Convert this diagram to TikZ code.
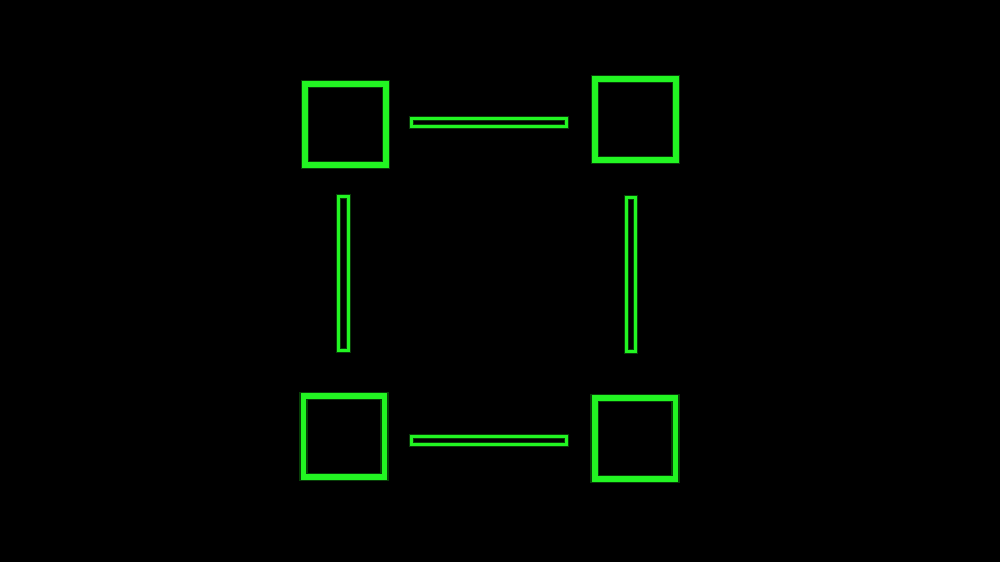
\documentclass[tikz,border=0pt]{standalone}
\usepackage{tikz}
\usetikzlibrary{shapes}
\definecolor{neon}{RGB}{34,245,34}
\tikzstyle{corner} = [rectangle, draw=neon, line width=3.4pt, minimum width=1.62cm,
    minimum height=1.62cm, inner sep=0pt, outer sep=0pt,
    preaction={draw=neon, line width=5pt, draw opacity=0.25}]
\tikzstyle{hbar} = [rectangle, draw=neon, line width=1.7pt, minimum width=3.1cm,
    minimum height=0.16cm, inner sep=0pt, outer sep=0pt,
    preaction={draw=neon, line width=3pt, draw opacity=0.25}]
\tikzstyle{vbar} = [hbar, minimum width=0.19cm, minimum height=3.08cm]

\begin{document}
\begin{tikzpicture}[x=0.02cm, y=-0.02cm]
        % Background
        \fill [black] (0,0) rectangle (1000,562);
        \useasboundingbox (0,0) rectangle (1000,562);
        % Place nodes
        \node [corner] (topleft) at (345.5,124.5) {};
        \node [corner] (topright) at (635.5,119.5) {};
        \node [corner] (bottomleft) at (344,436.5) {};
        \node [corner] (bottomright) at (635,438.5) {};
        % Bars between nodes
        \node [hbar] (top) at (489,122.5) {};
        \node [hbar] (bottom) at (489,440.5) {};
        \node [vbar] (left) at (343.5,273.5) {};
        \node [vbar] (right) at (631,274.5) {};
    \end{tikzpicture}
\end{document}
